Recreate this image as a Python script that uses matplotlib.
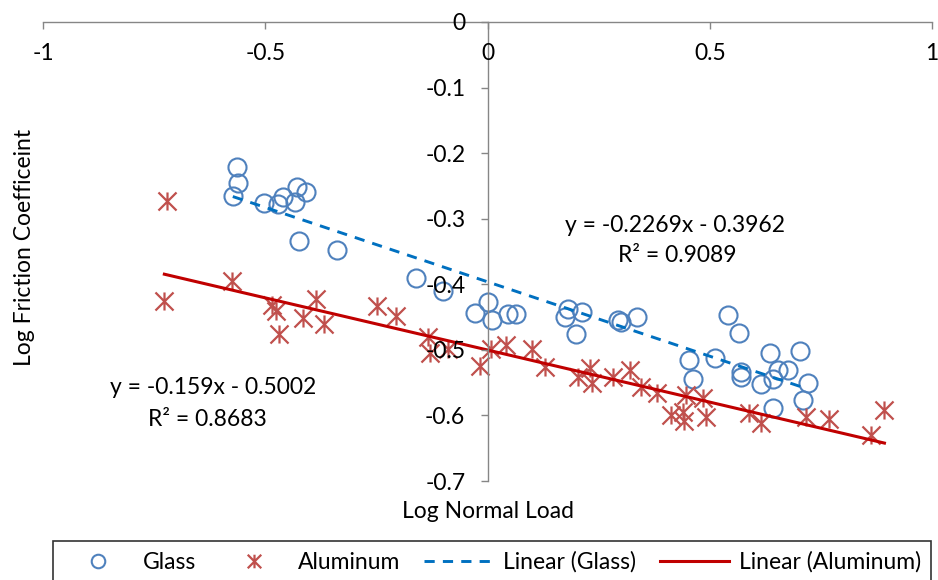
import matplotlib
matplotlib.use("Agg")
import matplotlib.pyplot as plt
from matplotlib.path import Path
import numpy as np

plt.rcParams['font.family'] = ['Lato', 'DejaVu Sans']

# Log normal load / log friction coefficient
glass_x = [-0.564, -0.562, -0.573, -0.503, -0.471, -0.461, -0.429, -0.408, -0.433,
           -0.425, -0.338, -0.161, -0.101, -0.029, 0.001, 0.010, 0.046, 0.065,
           0.174, 0.181, 0.213, 0.198, 0.293, 0.301, 0.337, 0.541, 0.565, 0.453,
           0.462, 0.511, 0.571, 0.571, 0.636, 0.703, 0.616, 0.642, 0.653, 0.676,
           0.720, 0.709, 0.642]
glass_y = [-0.221, -0.246, -0.266, -0.276, -0.277, -0.267, -0.252, -0.259, -0.274,
           -0.334, -0.347, -0.391, -0.410, -0.444, -0.427, -0.455, -0.446, -0.445,
           -0.450, -0.437, -0.442, -0.476, -0.455, -0.457, -0.450, -0.447, -0.474,
           -0.515, -0.545, -0.512, -0.534, -0.541, -0.505, -0.502, -0.552, -0.544,
           -0.531, -0.530, -0.550, -0.577, -0.588]

alu_x = [-0.721, -0.727, -0.575, -0.485, -0.475, -0.468, -0.414, -0.386, -0.367,
         -0.249, -0.205, -0.133, -0.130, -0.089, -0.017, 0.007, 0.041, 0.099,
         0.129, 0.204, 0.230, 0.236, 0.282, 0.321, 0.346, 0.381, 0.413, 0.440,
         0.441, 0.447, 0.485, 0.492, 0.589, 0.616, 0.717, 0.769, 0.863, 0.893]
alu_y = [-0.273, -0.425, -0.395, -0.432, -0.440, -0.476, -0.452, -0.423, -0.460,
         -0.433, -0.449, -0.480, -0.505, -0.498, -0.525, -0.498, -0.493, -0.498,
         -0.526, -0.541, -0.528, -0.551, -0.541, -0.530, -0.556, -0.566, -0.600,
         -0.595, -0.608, -0.569, -0.574, -0.602, -0.597, -0.612, -0.603, -0.605,
         -0.630, -0.592]

# trendline coefficients as printed on the chart
glass_fit = (-0.2269, -0.3962, 0.9089)
alu_fit = (-0.159, -0.5002, 0.8683)

xticks = [-1, -0.5, 0, 0.5, 1]
yticks = [0, -0.1, -0.2, -0.3, -0.4, -0.5, -0.6, -0.7]

BLUE = "#4F81BD"
RED = "#C0504D"
FS = 16.5

# excel style star: an X with a vertical bar through it
star = Path([(0, -1), (0, 1), (-1, -1), (1, 1), (-1, 1), (1, -1)],
            [Path.MOVETO, Path.LINETO] * 3)

fig = plt.figure(figsize=(9.38, 5.8), dpi=100)
ax = fig.add_axes([43 / 938, 1 - 481 / 580, (932 - 43) / 938, (481 - 22) / 580])

ax.plot(glass_x, glass_y, linestyle="none", marker="o", ms=13, mfc="none",
        mec=BLUE, mew=1.5, label="Glass", zorder=3)
ax.plot(alu_x, alu_y, linestyle="none", marker=star, ms=13, mec=RED,
        mew=1.6, label="Aluminum", zorder=3)

gx = np.array([min(glass_x), max(glass_x)])
ax.plot(gx, glass_fit[0] * gx + glass_fit[1], color="#0070C0", lw=2.1,
        dashes=(3.5, 2.8), label="Linear (Glass)", zorder=4)
axx = np.array([min(alu_x), max(alu_x)])
ax.plot(axx, alu_fit[0] * axx + alu_fit[1], color="#C00000", lw=2.2,
        label="Linear (Aluminum)", zorder=4)

ax.text(0.421, -0.310, f"y = {glass_fit[0]}x - {abs(glass_fit[1])}",
        ha="center", va="center", fontsize=FS)
ax.text(0.426, -0.356, f"R² = {glass_fit[2]}", ha="center", va="center", fontsize=FS)
ax.text(-0.617, -0.557, f"y = {alu_fit[0]}x - {abs(alu_fit[1])}",
        ha="center", va="center", fontsize=FS)
ax.text(-0.630, -0.606, f"R² = {alu_fit[2]}", ha="center", va="center", fontsize=FS)

ax.set_xlim(-1, 1)
ax.set_ylim(-0.7, 0)
ax.set_xticks(xticks)
ax.set_xticklabels(["-1", "-0.5", "0", "0.5", "1"])
ax.set_yticks(yticks)
ax.set_yticklabels(["0", "-0.1", "-0.2", "-0.3", "-0.4", "-0.5", "-0.6", "-0.7"])

for s in ["top", "right"]:
    ax.spines[s].set_visible(False)
ax.spines["left"].set_position(("data", 0))
ax.spines["bottom"].set_position(("data", 0))
for s in ["left", "bottom"]:
    ax.spines[s].set_color("#868686")
    ax.spines[s].set_linewidth(1.0)
    ax.spines[s].set_zorder(5)
ax.tick_params(axis="both", direction="out", length=5, width=1.0,
               color="#868686", labelsize=FS, labelcolor="black")
ax.tick_params(axis="x", pad=10)
ax.tick_params(axis="y", pad=11)
ax.xaxis.set_zorder(6)
ax.yaxis.set_zorder(6)
ax.patch.set_visible(False)

fig.text(488 / 938, 1 - 512 / 580, "Log Normal Load", ha="center", va="center",
         fontsize=FS)
fig.text(25 / 938, 1 - 247 / 580, "Log Friction Coefficeint", ha="center",
         va="center", rotation=90, fontsize=FS)

leg = fig.legend(loc="upper left", bbox_to_anchor=(53 / 938, 1 - 541 / 580),
                 bbox_transform=fig.transFigure, ncol=4, fontsize=FS,
                 frameon=True, fancybox=False, edgecolor="black",
                 handlelength=3.0, handletextpad=0.45, columnspacing=1.03,
                 borderpad=0.45, borderaxespad=0, markerscale=0.75)
leg.get_frame().set_linewidth(1.2)

fig.savefig("out.png", dpi=100)
